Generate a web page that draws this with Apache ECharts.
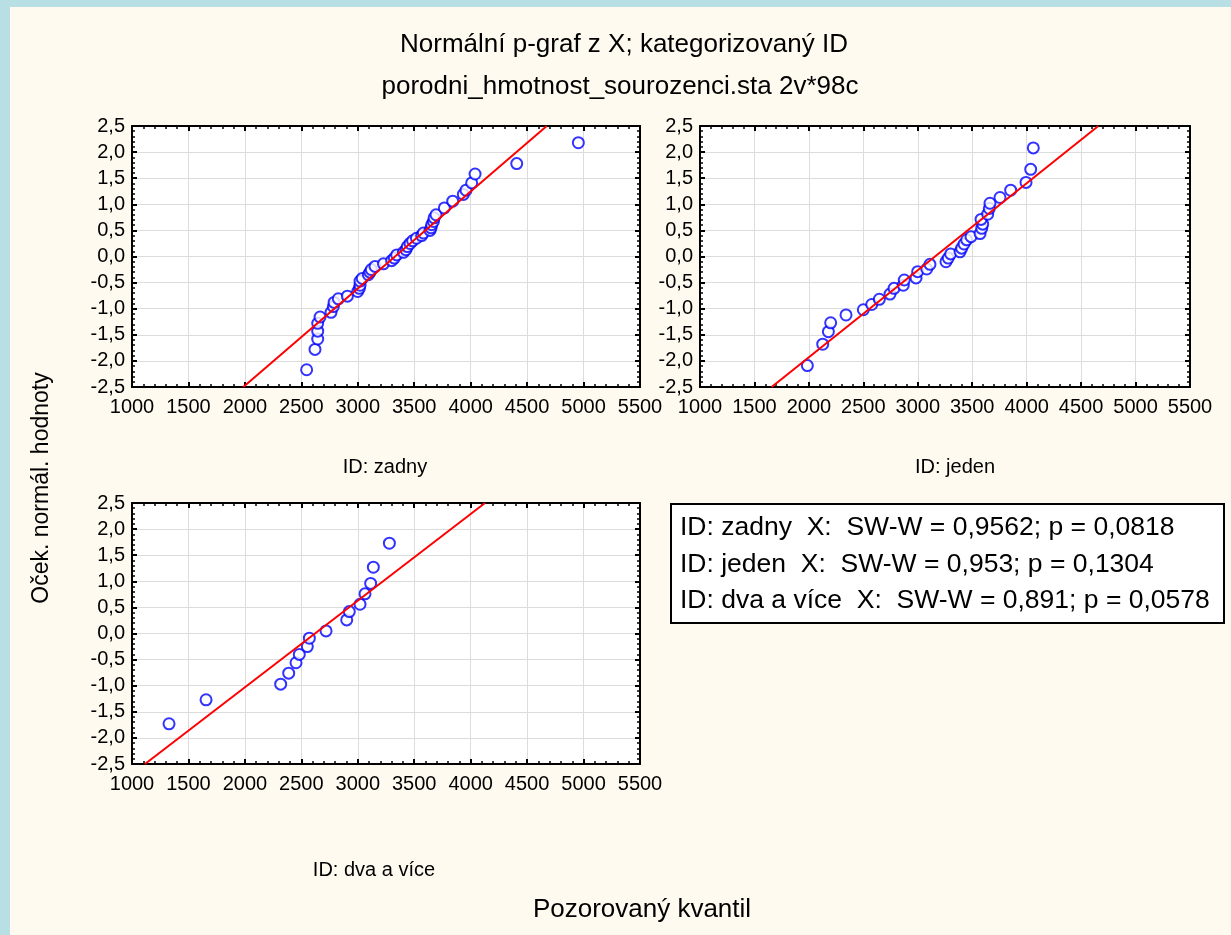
<!DOCTYPE html>
<html>
<head>
<meta charset="utf-8">
<script src="https://cdn.jsdelivr.net/npm/echarts@6/dist/echarts.min.js"></script>
<style>
html,body{margin:0;padding:0;background:#b8dfe3;}
#main{width:1231px;height:935px;}
</style>
</head>
<body>
<div id="main"></div>
<script>
// ---- data ----
const titleLines = ['Normální p-graf z X; kategorizovaný ID', 'porodni_hmotnost_sourozenci.sta 2v*98c'];
const yAxisTitle = 'Oček. normál. hodnoty';
const xAxisTitle = 'Pozorovaný kvantil';
const panelNames = ['ID: zadny', 'ID: jeden', 'ID: dva a více'];
const swLines = [
  'ID: zadny  X:  SW-W = 0,9562; p = 0,0818',
  'ID: jeden  X:  SW-W = 0,953; p = 0,1304',
  'ID: dva a více  X:  SW-W = 0,891; p = 0,0578'
];
const xMin = 1000, xMax = 5500, xStep = 500;
const yMin = -2.5, yMax = 2.5, yStep = 0.5;

const zadny = [
  [2547,-2.17],[2621,-1.78],[2645,-1.58],[2645,-1.43],[2645,-1.28],[2666,-1.16],[2763,-1.07],[2784,-0.96],
  [2790,-0.88],[2828,-0.81],[2908,-0.76],[2999,-0.67],[3014,-0.61],[3020,-0.55],[3020,-0.47],[3040,-0.42],
  [3094,-0.35],[3108,-0.30],[3120,-0.25],[3153,-0.19],[3227,-0.14],[3300,-0.08],[3324,-0.03],[3345,0.03],
  [3404,0.08],[3427,0.13],[3439,0.19],[3463,0.25],[3486,0.30],[3520,0.35],[3566,0.40],[3581,0.45],
  [3640,0.50],[3649,0.55],[3655,0.61],[3670,0.67],[3676,0.74],[3693,0.80],[3767,0.93],[3841,1.06],
  [3935,1.19],[3959,1.27],[4009,1.41],[4039,1.58],[4408,1.78],[4954,2.18]
];
const jeden = [
  [1986,-2.09],[2127,-1.68],[2179,-1.44],[2200,-1.27],[2341,-1.12],[2500,-1.02],[2577,-0.92],[2647,-0.82],
  [2745,-0.72],[2782,-0.61],[2867,-0.55],[2876,-0.45],[2984,-0.41],[2999,-0.29],[3082,-0.24],[3112,-0.15],
  [3259,-0.10],[3280,-0.03],[3302,0.05],[3388,0.09],[3403,0.16],[3425,0.24],[3449,0.32],[3489,0.38],
  [3572,0.44],[3587,0.54],[3596,0.62],[3581,0.71],[3642,0.81],[3657,0.92],[3663,1.02],[3755,1.13],
  [3853,1.27],[3994,1.42],[4037,1.67],[4061,2.08]
];
const dvaVice = [
  [1328,-1.73],[1656,-1.27],[2317,-0.97],[2388,-0.76],[2453,-0.56],[2482,-0.40],[2553,-0.25],[2571,-0.09],
  [2719,0.05],[2902,0.26],[2925,0.42],[3020,0.56],[3064,0.76],[3114,0.96],[3138,1.27],[3280,1.73]
];
const fitZadny = [[1986,-2.5],[4674,2.5]];
const fitJeden = [[1658,-2.5],[4658,2.5]];
const fitDvaVice = [[1115,-2.5],[4127,2.5]];

// ---- chart ----
const FONT = '"Liberation Sans", Arial, sans-serif';
const grids = [
  {left:132, top:126, width:508, height:261},
  {left:700, top:126, width:490, height:261},
  {left:132, top:503, width:508, height:261}
];
const panels = [zadny, jeden, dvaVice];
const fits = [fitZadny, fitJeden, fitDvaVice];

const lineStyle = {color:'#000', width:2};
const xAxes = [], yAxes = [], series = [];
grids.forEach((g, i) => {
  const common = {
    type:'value', gridIndex:i, min:xMin, max:xMax, interval:xStep,
    axisLine:{show:true, onZero:false, lineStyle},
    axisTick:{show:true, inside:true, length:5, lineStyle:{color:'#000', width:2}},
    minorTick:{show:true, splitNumber:5, length:3, lineStyle:{color:'#000', width:1.5}}
  };
  xAxes.push(Object.assign({}, common, {
    position:'bottom',
    axisLabel:{show:true, color:'#000', fontFamily:FONT, fontSize:20, margin:10,
      formatter: v => String(v)},
    splitLine:{show:true, lineStyle:{color:'#dcdcdc', width:1}}
  }));
  xAxes.push(Object.assign({}, common, {
    position:'top', axisLabel:{show:false}, splitLine:{show:false}
  }));
  const ycommon = {
    type:'value', gridIndex:i, min:yMin, max:yMax, interval:yStep,
    axisLine:{show:true, onZero:false, lineStyle},
    axisTick:{show:true, inside:true, length:5, lineStyle:{color:'#000', width:2}},
    minorTick:{show:true, splitNumber:5, length:3, lineStyle:{color:'#000', width:1.5}}
  };
  yAxes.push(Object.assign({}, ycommon, {
    position:'left',
    axisLabel:{show:true, color:'#000', fontFamily:FONT, fontSize:20, margin:7,
      formatter: v => v.toFixed(1).replace('.', ',')},
    splitLine:{show:true, lineStyle:{color:'#dcdcdc', width:1}}
  }));
  yAxes.push(Object.assign({}, ycommon, {
    position:'right', axisLabel:{show:false}, splitLine:{show:false}
  }));
  series.push({
    type:'scatter', xAxisIndex:2*i, yAxisIndex:2*i, data:panels[i],
    symbol:'emptyCircle', symbolSize:11,
    itemStyle:{color:'#0000ff', borderColor:'#0000ff', borderWidth:2.5},
    z:3
  });
  series.push({
    type:'line', xAxisIndex:2*i, yAxisIndex:2*i, data:fits[i],
    symbol:'none', clip:true,
    lineStyle:{color:'#ff0000', width:2}, z:4
  });
});

const txt = (x, y, text, size, align) => ({
  type:'text', x, y, z:10,
  style:{text, fill:'#000', font: size + 'px ' + FONT, textAlign: align || 'center', textVerticalAlign:'middle'}
});

const graphic = [
  {type:'rect', shape:{x:10, y:7, width:1221, height:928}, style:{fill:'#fffaf0'}, z:-10},
  txt(624, 45, titleLines[0], 26),
  txt(620, 87, titleLines[1], 26),
  {type:'text', x:42, y:488, rotation:Math.PI/2, z:10,
   style:{text:yAxisTitle, fill:'#000', font:'23px ' + FONT, textAlign:'center', textVerticalAlign:'middle'}},
  txt(642, 910, xAxisTitle, 26),
  txt(385, 467, panelNames[0], 20),
  txt(955, 467, panelNames[1], 20),
  txt(374, 870, panelNames[2], 20),
  {type:'rect', shape:{x:671, y:504, width:553, height:119}, style:{fill:'#ffffff', stroke:'#000', lineWidth:2}, z:5},
  txt(680, 528, swLines[0], 26.5, 'left'),
  txt(680, 565, swLines[1], 26.5, 'left'),
  txt(680, 601, swLines[2], 26.5, 'left')
];

const chart = echarts.init(document.getElementById('main'), null, {renderer:'canvas'});
chart.setOption({
  animation:false,
  backgroundColor:'#b8dfe3',
  grid: grids.map(g => Object.assign({show:true, backgroundColor:'#ffffff', borderWidth:0}, g)),
  xAxis: xAxes,
  yAxis: yAxes,
  series,
  graphic
});
</script>
</body>
</html>
